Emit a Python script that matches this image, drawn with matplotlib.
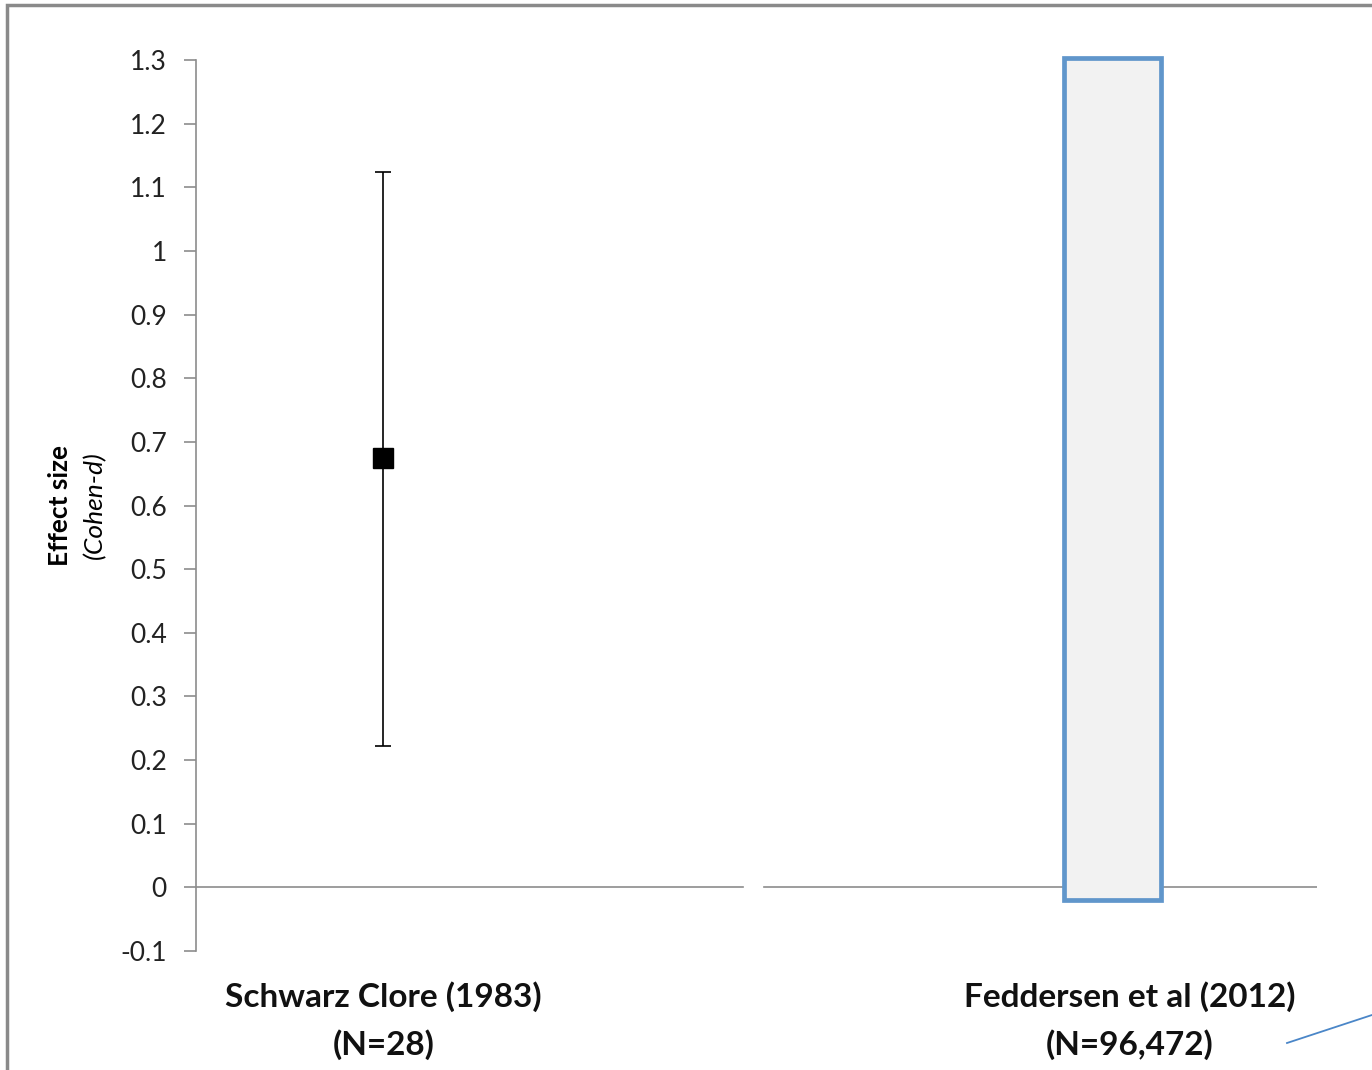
import matplotlib
matplotlib.use("Agg")
import matplotlib.pyplot as plt
from matplotlib.patches import Rectangle
from matplotlib.lines import Line2D

plt.rcParams['font.family'] = ['Lato', 'DejaVu Sans']

# data
studies = ['Schwarz Clore (1983)\n(N=28)', 'Feddersen et al (2012)\n(N=96,472)']
schwarz_d = 0.675
schwarz_ci = [0.222, 1.124]
feddersen_low = -0.02
feddersen_high = 1.303
yticks = [-0.1, 0, 0.1, 0.2, 0.3, 0.4, 0.5, 0.6, 0.7, 0.8, 0.9, 1, 1.1, 1.2, 1.3]
ytick_labels = ['-0.1', '0', '0.1', '0.2', '0.3', '0.4', '0.5', '0.6', '0.7',
                '0.8', '0.9', '1', '1.1', '1.2', '1.3']

W, H = 1372, 1070
fig = plt.figure(figsize=(W / 100, H / 100), dpi=100)
ax = fig.add_axes([196 / W, 1 - 951 / H, (1317 - 196) / W, (951 - 60) / H])

x_left, x_right = 0.167, 0.818
grey = '#8c8c8c'

# zero line, with the small gap in the middle
ax.plot([0, 0.488], [0, 0], color=grey, lw=1.2, zorder=1)
ax.plot([0.507, 1], [0, 0], color=grey, lw=1.2, zorder=1)

# Schwarz & Clore: point with CI
ax.errorbar([x_left], [schwarz_d],
            yerr=[[schwarz_d - schwarz_ci[0]], [schwarz_ci[1] - schwarz_d]],
            fmt='s', color='black', ms=15, ecolor='black', elinewidth=1.2,
            capsize=6, capthick=1.2, zorder=3)

# Feddersen: bar-like box
ax.bar([x_right], [feddersen_high - feddersen_low], bottom=feddersen_low,
       width=0.0865, color='#f2f2f2', edgecolor='#6096cb', linewidth=3.4,
       clip_on=False, zorder=2)

ax.set_xlim(0, 1)
ax.set_ylim(-0.1, 1.3)
ax.set_yticks(yticks)
ax.set_yticklabels(ytick_labels, fontsize=19, color='#222222')
ax.tick_params(axis='y', length=9, width=1.2, color=grey, pad=12)
ax.set_xticks([])
for s in ['top', 'right', 'bottom']:
    ax.spines[s].set_visible(False)
ax.spines['left'].set_color(grey)
ax.spines['left'].set_linewidth(1.2)

# category labels
for xpos, lab in zip([0.167, 0.833], studies):
    ax.text(xpos, -0.148, lab, ha='center', va='top', fontsize=24,
            fontweight='bold', linespacing=1.65, transform=ax.transData,
            color='#111111')

# y label
fig.text(60 / W, 1 - 505 / H, 'Effect size', rotation=90, ha='center', va='center',
         fontsize=19, fontweight='bold')
fig.text(95 / W, 1 - 505 / H, '(Cohen-d)', rotation=90, ha='center', va='center',
         fontsize=19, style='italic')

# outer frame of the slide region
fig.add_artist(Rectangle((7 / W, -0.1), 1.2, 1 - 5 / H + 0.1, transform=fig.transFigure,
                         fill=False, edgecolor='#8a8a8a', linewidth=2.5))

# stray callout line at the bottom right
fig.add_artist(Line2D([1287 / W, 1.0], [1 - 1043 / H, 1 - 1015 / H],
                      transform=fig.transFigure, color='#4a86c8', lw=1.3))

fig.savefig('out.png', dpi=100, facecolor='white')
